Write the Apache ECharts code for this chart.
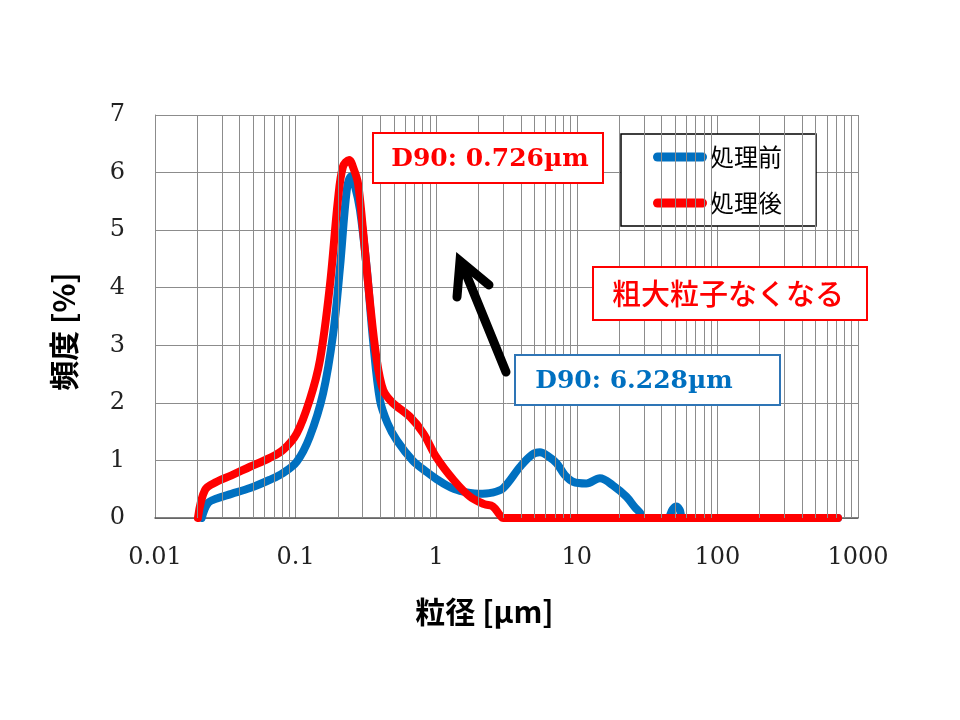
<!DOCTYPE html>
<html>
<head>
<meta charset="utf-8">
<script src="https://cdn.jsdelivr.net/npm/echarts@6/dist/echarts.min.js"></script>
<style>html,body{margin:0;padding:0;background:#fff}#c{width:960px;height:720px}</style>
</head>
<body>
<div id="c"></div>
<script>
// ---- data ----
const seriesNames = ['処理前', '処理後'];
const beforeX = [0.0215,0.0238,0.0275,0.035,0.0474,0.065,0.0813,0.102,0.126,0.157,0.185,0.207,0.231,0.247,0.265,0.287,0.32,0.355,0.398,0.45,0.524,0.68,0.855,1.0,1.2,1.476,2.0,2.5,3.0,3.95,4.8,5.47,6.2,7.2,8.2,9.4,11.7,14.6,18,22.5,26,28.2,29.5,44,48,51,54,57,721];
const beforeY = [0,0.26,0.34,0.42,0.52,0.66,0.78,0.98,1.41,2.17,3.2,4.36,5.69,5.93,5.75,5.35,4.36,3.1,2.05,1.65,1.35,1.0,0.8,0.68,0.56,0.47,0.42,0.44,0.52,0.89,1.1,1.14,1.08,0.95,0.75,0.63,0.6,0.69,0.57,0.37,0.18,0.09,0,0,0.15,0.2,0.14,0,0];
const afterX = [0.0202,0.0227,0.0275,0.035,0.0474,0.065,0.0813,0.102,0.126,0.149,0.175,0.2,0.217,0.24,0.26,0.278,0.30,0.337,0.375,0.42,0.49,0.65,0.81,1.0,1.33,1.74,2.2,2.53,2.84,3.0,721];
const afterY = [0,0.49,0.63,0.74,0.89,1.04,1.18,1.47,2.05,2.74,4.02,5.52,6.1,6.22,6.05,5.81,5.06,3.78,2.8,2.22,2.0,1.76,1.47,1.06,0.66,0.37,0.24,0.2,0.05,0,0];
const xTickValues = [0.01,0.1,1,10,100,1000];
const xTickLabels = ['0.01','0.1','1','10','100','1000'];
const minorMultipliers = [2,3,4,5,6,7,8,9];
const xAxisTitle = '粒径 [µm]';
const yAxisTitle = '頻度 [%]';
const noteAfter = 'D90: 0.726µm';
const noteBefore = 'D90: 6.228µm';
const noteMain = '粗大粒子なくなる';

// ---- build ----
const zip = (xs, ys) => xs.map((x, i) => [x, ys[i]]);
const minorLines = [];
xTickValues.slice(0, -1).forEach(d => minorMultipliers.forEach(m => minorLines.push({ xAxis: d * m })));
const BLUE = '#0070c0', RED = '#ff0000', GRID = '#8c8c8c';
const COLORS = [BLUE, RED];
const serif = '"DejaVu Serif", "Liberation Serif", serif';
const cjk = '"Noto Sans CJK JP", "Noto Sans", sans-serif';
const capsule = 'path://M4.5,0 L49.5,0 A4.5,4.5 0 0 1 49.5,9 L4.5,9 A4.5,4.5 0 0 1 4.5,0 Z';

const chart = echarts.init(document.getElementById('c'), null, { renderer: 'canvas' });
chart.setOption({
  backgroundColor: '#fff',
  animation: false,
  grid: { left: 155, right: 102, top: 115, bottom: 202, containLabel: false },
  legend: {
    data: seriesNames.map((n, i) => ({ name: n, icon: capsule,
      itemStyle: { color: COLORS[i], borderWidth: 0, borderColor: 'transparent', decal: 'none' } })),
    orient: 'vertical', left: 621, top: 134,
    padding: [11, 34, 11, 32], itemGap: 22,
    itemWidth: 54, itemHeight: 9,
    backgroundColor: '#fff', borderColor: '#000', borderWidth: 1.5, borderRadius: 0,
    itemStyle: { borderWidth: 0 },
    lineStyle: { width: 0, opacity: 0 },
    textStyle: { fontFamily: cjk, fontSize: 24, color: '#000', lineHeight: 24, padding: [0, 0, 0, -2] }
  },
  xAxis: {
    type: 'log', logBase: 10, min: 0.01, max: 1000,
    name: xAxisTitle, nameLocation: 'middle', nameGap: 79,
    nameTextStyle: { fontFamily: cjk, fontSize: 30, fontWeight: 'bold', color: '#000', padding: [0, 44, 0, 0] },
    axisLine: { show: true, lineStyle: { color: '#595959', width: 1.5 } },
    axisTick: { show: false },
    axisLabel: {
      margin: 28, fontFamily: serif, fontSize: 24, color: '#222',
      formatter: v => { const i = Math.round(Math.log10(v)) + 2; return xTickLabels[i] ?? ''; }
    },
    splitLine: { show: true, lineStyle: { color: GRID, width: 1 } }
  },
  yAxis: {
    type: 'value', min: 0, max: 7, interval: 1,
    name: yAxisTitle, nameLocation: 'middle', nameGap: 76,
    nameTextStyle: { fontFamily: cjk, fontSize: 30, fontWeight: 'bold', color: '#000', padding: [0, 30, 0, 0] },
    axisLine: { show: true, lineStyle: { color: GRID, width: 1 } },
    axisTick: { show: false },
    axisLabel: { margin: 30, fontFamily: serif, fontSize: 24, color: '#222' },
    splitLine: { show: true, lineStyle: { color: GRID, width: 1 } }
  },
  series: [
    {
      name: 'minor', type: 'line', data: [], z: 1, silent: true,
      markLine: {
        silent: true, symbol: 'none', label: { show: false },
        lineStyle: { color: GRID, width: 1, type: 'solid' },
        emphasis: { disabled: true },
        data: minorLines
      }
    },
    {
      name: seriesNames[0], type: 'line', data: zip(beforeX, beforeY), z: 3,
      showSymbol: false, symbol: 'none', smooth: 0.35,
      color: BLUE,
      lineStyle: { color: BLUE, width: 8, cap: 'round', join: 'round' }
    },
    {
      name: seriesNames[1], type: 'line', data: zip(afterX, afterY), z: 4,
      showSymbol: false, symbol: 'none', smooth: 0.35,
      color: RED,
      lineStyle: { color: RED, width: 8, cap: 'round', join: 'round' }
    }
  ],
  graphic: [
    { type: 'rect', z: 50, shape: { x: 373, y: 133, width: 230, height: 50 },
      style: { fill: '#fff', stroke: RED, lineWidth: 2 } },
    { type: 'text', z: 51, style: { x: 490, y: 159, text: noteAfter, fill: RED,
      font: 'bold 25px ' + serif, textAlign: 'center', textVerticalAlign: 'middle' } },
    { type: 'rect', z: 50, shape: { x: 593, y: 267, width: 274, height: 53 },
      style: { fill: '#fff', stroke: RED, lineWidth: 2 } },
    { type: 'text', z: 51, style: { x: 728, y: 294, text: noteMain, fill: RED,
      font: '500 29px ' + cjk, textAlign: 'center', textVerticalAlign: 'middle' } },
    { type: 'rect', z: 50, shape: { x: 515, y: 355, width: 265, height: 50 },
      style: { fill: '#fff', stroke: '#2e75b6', lineWidth: 2 } },
    { type: 'text', z: 51, style: { x: 634, y: 381, text: noteBefore, fill: BLUE,
      font: 'bold 25px ' + serif, textAlign: 'center', textVerticalAlign: 'middle' } },
    { type: 'polyline', z: 52, shape: { points: [[506, 372], [462, 264]] },
      style: { stroke: '#000', lineWidth: 9, lineCap: 'round', fill: null } },
    { type: 'polyline', z: 52, shape: { points: [[457, 297], [460, 261], [489, 285]] },
      style: { stroke: '#000', lineWidth: 9, lineCap: 'round', lineJoin: 'miter', fill: null } }
  ]
});
</script>
</body>
</html>
